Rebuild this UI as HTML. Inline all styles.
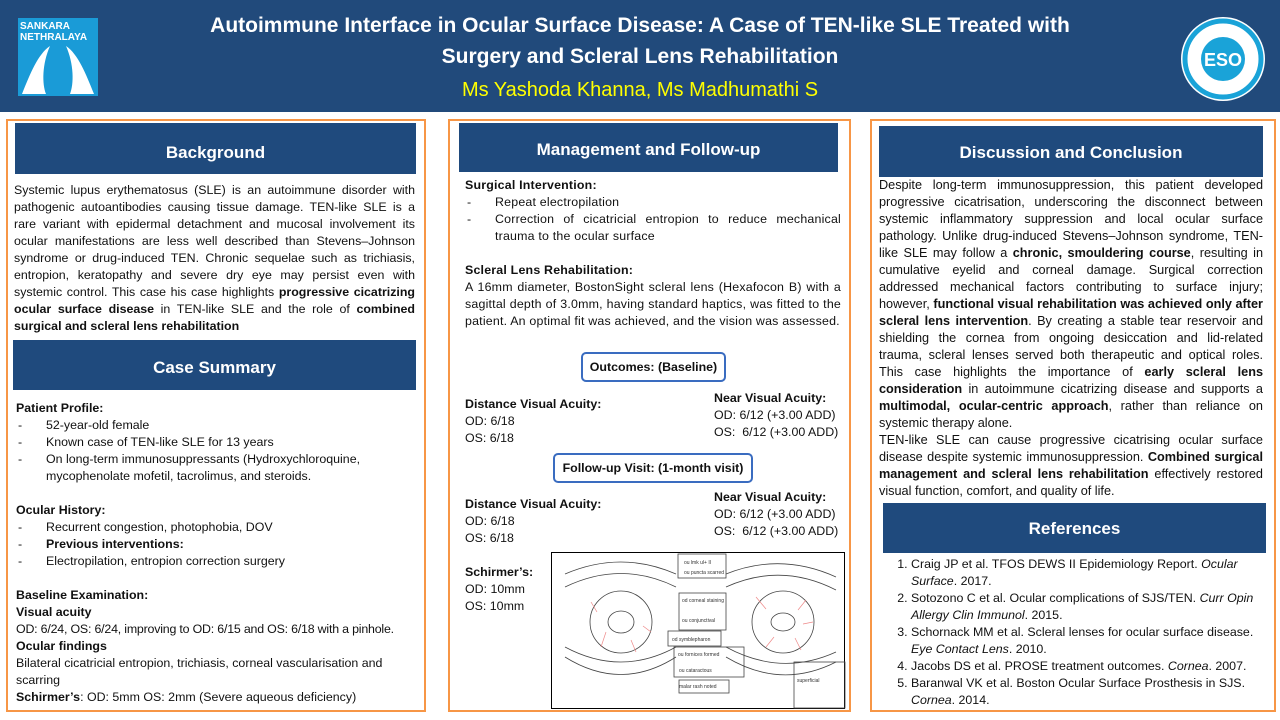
<!DOCTYPE html>
<html><head><meta charset="utf-8"><style>
*{margin:0;padding:0;box-sizing:border-box}
body{width:1280px;height:720px;position:relative;background:#fff;font-family:"Liberation Sans",sans-serif;color:#111;overflow:hidden}
.hdr{position:absolute;left:0;top:0;width:1280px;height:112px;background:#214a7b}
.t{position:absolute;left:150px;width:980px;text-align:center;color:#fff;font-weight:bold;font-size:21px}
.col{position:absolute;border:2px solid #f79646;top:119px;height:593px}
.bh{position:absolute;background:#1f4a7d;color:#fff;font-weight:bold;font-size:17px;text-align:center}
.tx{position:absolute;font-size:12.4px;line-height:17px;text-align:justify}
.tx p{margin:0}
ul{list-style:none}
li{position:relative;padding-left:30px}
li:before{content:"-";position:absolute;left:2px}
ol{padding-left:30px}
ol li{padding-left:0}
ol li:before{content:none}
.ob{position:absolute;border:2px solid #3a6cc0;border-radius:5px;font-weight:bold;font-size:12.4px;text-align:center;background:#fff}
</style></head><body>
<div class="hdr"></div>
<div style="position:absolute;left:18px;top:18px;width:80px;height:78px;background:#1a9bd7;color:#fff;font-size:10px;font-weight:bold;line-height:11px;padding:3px 2px">SANKARA<br>NETHRALAYA
<svg width="76" height="52" style="position:absolute;left:2px;top:26px"><path d="M2 50 C10 30 18 10 30 2 C22 20 22 40 26 50Z M74 50 C66 30 58 10 46 2 C54 20 54 40 50 50Z" fill="#fff"/></svg></div>
<div class="t" style="top:14px">Autoimmune Interface in Ocular Surface Disease: A Case of TEN-like SLE Treated with</div>
<div class="t" style="top:45px">Surgery and Scleral Lens Rehabilitation</div>
<div class="t" style="top:79px;color:#ffff00;font-weight:normal;font-size:20px">Ms Yashoda Khanna, Ms Madhumathi S</div>
<svg style="position:absolute;left:1178px;top:14px" width="90" height="90"><circle cx="45" cy="45" r="42" fill="#fff"/><circle cx="45" cy="45" r="38" fill="none" stroke="#1aa3d8" stroke-width="5"/><circle cx="45" cy="45" r="22" fill="#1aa3d8"/><text x="45" y="52" fill="#fff" font-size="18" font-weight="bold" text-anchor="middle" font-family="Liberation Sans">ESO</text></svg>

<div class="col" style="left:6px;width:420px"></div>
<div class="col" style="left:448px;width:403px"></div>
<div class="col" style="left:870px;width:406px"></div>

<div class="bh" style="left:15px;top:123px;width:401px;height:51px;line-height:60px">Background</div>
<div class="bh" style="left:13px;top:340px;width:403px;height:50px;line-height:55px">Case Summary</div>
<div class="bh" style="left:459px;top:123px;width:379px;height:49px;line-height:54px">Management and Follow-up</div>
<div class="bh" style="left:879px;top:126px;width:384px;height:51px;line-height:54px">Discussion and Conclusion</div>
<div class="bh" style="left:883px;top:503px;width:383px;height:50px;line-height:52px">References</div>

<div class="tx" style="left:14px;top:182px;width:401px">Systemic lupus erythematosus (SLE) is an autoimmune disorder with pathogenic autoantibodies causing tissue damage. TEN-like SLE is a rare variant with epidermal detachment and mucosal involvement its ocular manifestations are less well described than Stevens–Johnson syndrome or drug-induced TEN. Chronic sequelae such as trichiasis, entropion, keratopathy and severe dry eye may persist even with systemic control. This case his case highlights <b>progressive cicatrizing ocular surface disease</b> in TEN-like SLE and the role of <b>combined surgical and scleral lens rehabilitation</b></div>

<div class="tx" style="left:16px;top:400px;width:408px;text-align:left">
<p><b>Patient Profile:</b></p>
<ul><li>52-year-old female</li><li>Known case of TEN-like SLE for 13 years</li><li>On long-term immunosuppressants (Hydroxychloroquine, mycophenolate mofetil, tacrolimus, and steroids.</li></ul>
<p>&nbsp;</p>
<p><b>Ocular History:</b></p>
<ul><li>Recurrent congestion, photophobia, DOV</li><li><b>Previous interventions:</b></li><li>Electropilation, entropion correction surgery</li></ul>
<p>&nbsp;</p>
<p><b>Baseline Examination:</b></p>
<p><b>Visual acuity</b></p>
<p style="letter-spacing:-0.2px">OD: 6/24, OS: 6/24, improving to OD: 6/15 and OS: 6/18 with a pinhole.</p>
<p><b>Ocular findings</b></p>
<p>Bilateral cicatricial entropion, trichiasis, corneal vascularisation and scarring</p>
<p><b>Schirmer’s</b>: OD: 5mm OS: 2mm (Severe aqueous deficiency)</p>
</div>

<div class="tx" style="left:465px;top:177px;width:376px;letter-spacing:0.2px">
<p><b>Surgical Intervention:</b></p>
<ul style="text-align:left"><li>Repeat electropilation</li><li style="text-align:justify">Correction of cicatricial entropion to reduce mechanical trauma to the ocular surface</li></ul>
<p>&nbsp;</p>
<p><b>Scleral Lens Rehabilitation:</b></p>
<p>A 16mm diameter, BostonSight scleral lens (Hexafocon B) with a sagittal depth of 3.0mm, having standard haptics, was fitted to the patient. An optimal fit was achieved, and the vision was assessed.</p>
</div>
<div class="ob" style="left:581px;top:352px;width:145px;height:30px;line-height:27px">Outcomes: (Baseline)</div>
<div class="tx" style="left:465px;top:396px;width:150px;text-align:left"><b>Distance Visual Acuity:</b><br>OD: 6/18<br>OS: 6/18</div>
<div class="tx" style="left:714px;top:390px;width:135px;text-align:left"><b>Near Visual Acuity:</b><br>OD: 6/12 (+3.00 ADD)<br>OS:&nbsp; 6/12 (+3.00 ADD)</div>
<div class="ob" style="left:553px;top:453px;width:200px;height:30px;line-height:27px">Follow-up Visit: (1-month visit)</div>
<div class="tx" style="left:465px;top:496px;width:150px;text-align:left"><b>Distance Visual Acuity:</b><br>OD: 6/18<br>OS: 6/18</div>
<div class="tx" style="left:714px;top:489px;width:135px;text-align:left"><b>Near Visual Acuity:</b><br>OD: 6/12 (+3.00 ADD)<br>OS:&nbsp; 6/12 (+3.00 ADD)</div>
<div class="tx" style="left:465px;top:564px;width:90px;text-align:left"><b>Schirmer’s:</b><br>OD: 10mm<br>OS: 10mm</div>
<svg style="position:absolute;left:551px;top:552px" width="295" height="158">
<rect x="0.5" y="0.5" width="293" height="156" fill="#fff" stroke="#000"/>
<g fill="none" stroke="#444" stroke-width="0.8">
<path d="M14 22 Q70 -2 125 22"/><path d="M14 35 Q70 8 125 35"/><path d="M14 95 Q70 125 125 95"/><path d="M14 105 Q70 140 125 105"/>
<circle cx="70" cy="70" r="31"/><ellipse cx="70" cy="70" rx="13" ry="11"/>
<path d="M175 22 Q230 0 285 25"/><path d="M175 35 Q230 10 285 38"/><path d="M175 95 Q230 125 285 100"/><path d="M175 105 Q230 138 285 110"/>
<circle cx="232" cy="70" r="31"/><ellipse cx="232" cy="70" rx="12" ry="9"/>
<rect x="127" y="2" width="48" height="24"/><rect x="128" y="41" width="47" height="37"/><rect x="117" y="79" width="53" height="15"/><rect x="123" y="95" width="70" height="30"/><rect x="128" y="128" width="50" height="13"/><rect x="243" y="110" width="51" height="46"/>
</g>
<g fill="none" stroke="#e88" stroke-width="0.7"><path d="M40 50l6 10M50 95l5-15M85 100l-5-12M100 80l-8-6M205 45l10 12M255 48l-8 10M215 95l8-10M250 98l-6-12M262 70l-10 2"/></g>
<g font-size="5" fill="#333" font-family="Liberation Sans"><text x="133" y="12">ou lmk ul+ II</text><text x="133" y="22">ou puncta scarred</text><text x="131" y="50">od corneal staining</text><text x="131" y="70">ou conjunctival</text><text x="121" y="89">od symblepharon</text><text x="127" y="104">ou fornices formed</text><text x="128" y="136">malar rash noted</text><text x="128" y="120">ou cataractous</text><text x="246" y="130">superficial</text></g>
</svg>

<div class="tx" style="left:879px;top:177px;width:384px;font-size:12.7px">Despite long-term immunosuppression, this patient developed progressive cicatrisation, underscoring the disconnect between systemic inflammatory suppression and local ocular surface pathology. Unlike drug-induced Stevens–Johnson syndrome, TEN-like SLE may follow a <b>chronic, smouldering course</b>, resulting in cumulative eyelid and corneal damage. Surgical correction addressed mechanical factors contributing to surface injury; however, <b>functional visual rehabilitation was achieved only after scleral lens intervention</b>. By creating a stable tear reservoir and shielding the cornea from ongoing desiccation and lid-related trauma, scleral lenses served both therapeutic and optical roles. This case highlights the importance of <b>early scleral lens consideration</b> in autoimmune cicatrizing disease and supports a <b>multimodal, ocular-centric approach</b>, rather than reliance on systemic therapy alone.<br>TEN-like SLE can cause progressive cicatrising ocular surface disease despite systemic immunosuppression. <b>Combined surgical management and scleral lens rehabilitation</b> effectively restored visual function, comfort, and quality of life.</div>

<div class="tx" style="left:881px;top:556px;width:385px;text-align:left"><ol>
<li>Craig JP et al. TFOS DEWS II Epidemiology Report. <i>Ocular Surface</i>. 2017.</li>
<li>Sotozono C et al. Ocular complications of SJS/TEN. <i>Curr Opin Allergy Clin Immunol</i>. 2015.</li>
<li>Schornack MM et al. Scleral lenses for ocular surface disease. <i>Eye Contact Lens</i>. 2010.</li>
<li>Jacobs DS et al. PROSE treatment outcomes. <i>Cornea</i>. 2007.</li>
<li>Baranwal VK et al. Boston Ocular Surface Prosthesis in SJS. <i>Cornea</i>. 2014.</li></ol></div>
</body></html>
